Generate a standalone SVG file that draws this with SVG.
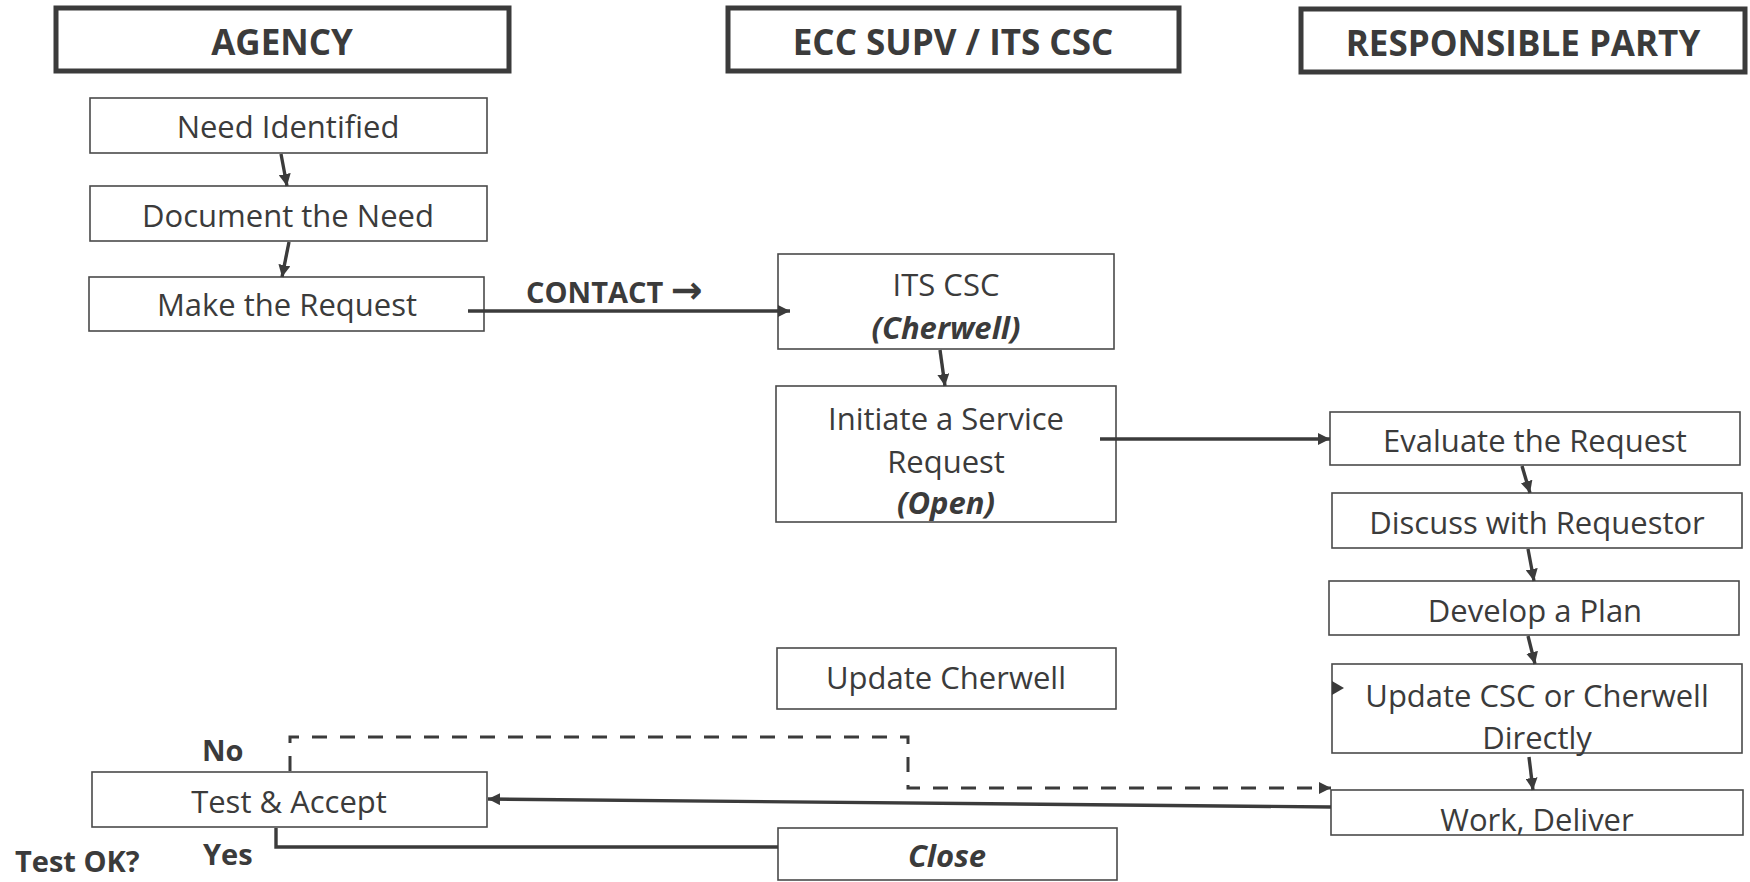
<svg xmlns="http://www.w3.org/2000/svg" width="1750" height="882" viewBox="0 0 1750 882">
<defs>
<style>
.hdr rect{fill:#fff;stroke:#3b3b3b;stroke-width:5}
.hdr text{font-family:"Open Sans","Liberation Sans",sans-serif;font-weight:700;font-size:35px;fill:#3b3b3b;text-anchor:middle}
.node rect{fill:#fff;stroke:#4a4a4a;stroke-width:1.6}
.node text{font-family:"Open Sans","Liberation Sans",sans-serif;font-size:31px;fill:#3b3b3b;text-anchor:middle}
.node text.bi{font-weight:700;font-style:italic}
.lbl{font-family:"Open Sans","DejaVu Sans","Liberation Sans",sans-serif;font-weight:700;font-size:29px;fill:#3b3b3b}
.arr{font-family:"DejaVu Sans",sans-serif;font-size:38px;font-weight:700}
.conn path{fill:none;stroke:#3b3b3b;stroke-width:3.4}
.conn path.dash{stroke-dasharray:15 13;stroke-width:3}
.conn path.tip{fill:#3b3b3b;stroke:none}
</style>
<marker id="ah" markerUnits="userSpaceOnUse" markerWidth="14" markerHeight="12" refX="12" refY="6" orient="auto"><path d="M0,0 L12,6 L0,12 z" fill="#3b3b3b"/></marker>
</defs>
<rect x="0" y="0" width="1750" height="882" fill="#fff"/>

<g id="hdr-agency" class="hdr"><rect x="56" y="8" width="453" height="63"/><text x="282" y="55">AGENCY</text></g>
<g id="hdr-ecc" class="hdr"><rect x="728" y="8" width="451" height="63"/><text x="953" y="55">ECC SUPV / ITS CSC</text></g>
<g id="hdr-resp" class="hdr"><rect x="1301" y="9" width="444" height="63"/><text x="1523" y="56">RESPONSIBLE PARTY</text></g>

<g id="n-need" class="node"><rect x="90" y="98" width="397" height="55"/><text x="288" y="138">Need Identified</text></g>
<g id="n-doc" class="node"><rect x="90" y="186" width="397" height="55"/><text x="288" y="227">Document the Need</text></g>
<g id="n-make" class="node"><rect x="89" y="277" width="395" height="54"/><text x="287" y="316">Make the Request</text></g>
<g id="n-its" class="node"><rect x="778" y="254" width="336" height="95"/><text x="946" y="296">ITS CSC</text><text class="bi" x="946" y="339">(Cherwell)</text></g>
<g id="n-init" class="node"><rect x="776" y="386" width="340" height="136"/><text x="946" y="430">Initiate a Service</text><text x="946" y="473">Request</text><text class="bi" x="946" y="514">(Open)</text></g>
<g id="n-updch" class="node"><rect x="777" y="648" width="339" height="61"/><text x="946" y="689">Update Cherwell</text></g>
<g id="n-close" class="node"><rect x="778" y="828" width="339" height="52"/><text class="bi" x="947" y="867">Close</text></g>
<g id="n-eval" class="node"><rect x="1330" y="412" width="410" height="53"/><text x="1535" y="452">Evaluate the Request</text></g>
<g id="n-disc" class="node"><rect x="1332" y="493" width="410" height="55"/><text x="1537" y="534">Discuss with Requestor</text></g>
<g id="n-dev" class="node"><rect x="1329" y="581" width="410" height="54"/><text x="1535" y="622">Develop a Plan</text></g>
<g id="n-updcsc" class="node"><rect x="1332" y="664" width="410" height="89"/><text x="1537" y="707">Update CSC or Cherwell</text><text x="1537" y="749">Directly</text></g>
<g id="n-work" class="node"><rect x="1331" y="790" width="412" height="45"/><text x="1537" y="831">Work, Deliver</text></g>
<g id="n-test" class="node"><rect x="92" y="772" width="395" height="55"/><text x="289" y="813">Test &amp; Accept</text></g>

<g id="conn" class="conn">
<path d="M281,154 L287,186" marker-end="url(#ah)"/>
<path d="M289,242 L282,277" marker-end="url(#ah)"/>
<path d="M468,311 H790" marker-end="url(#ah)"/>
<path d="M940,350 L945,386" marker-end="url(#ah)"/>
<path d="M1100,439 H1330" marker-end="url(#ah)"/>
<path d="M1522,466 L1530,493" marker-end="url(#ah)"/>
<path d="M1528,549 L1534,581" marker-end="url(#ah)"/>
<path d="M1528,636 L1535,664" marker-end="url(#ah)"/>
<path d="M1529,757 L1533,790" marker-end="url(#ah)"/>
<path d="M1331,807 L488,799" marker-end="url(#ah)"/>
<path d="M276,828 V847 H778"/>
<path class="dash" d="M290,771 V737 H908 V788 H1331" marker-end="url(#ah)"/>
<path class="tip" d="M1332,681 L1344,688 L1332,695 z"/>
</g>

<g id="labels">
<text class="lbl" x="526" y="303">CONTACT <tspan class="arr">→</tspan></text>
<text class="lbl" x="202" y="761">No</text>
<text class="lbl" x="203" y="865">Yes</text>
<text class="lbl" x="15" y="872">Test OK?</text>
</g>
</svg>
